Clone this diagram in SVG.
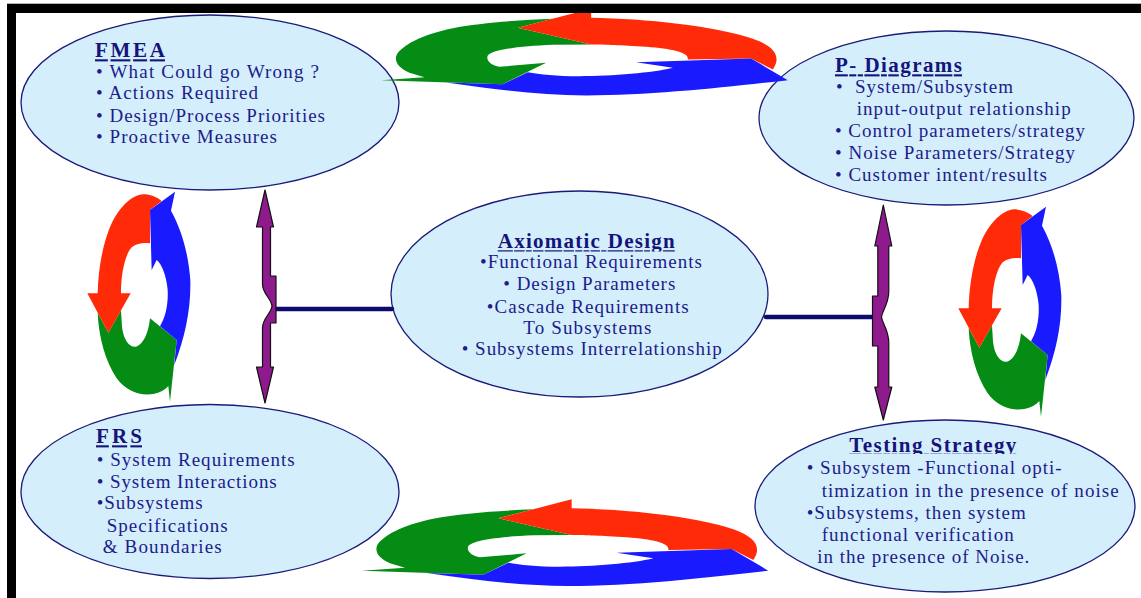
<svg xmlns="http://www.w3.org/2000/svg" width="1141" height="598" viewBox="0 0 1141 598">
<style>
  .oval{fill:#d4eefc;stroke:#1a1a78;stroke-width:1.3}
  .t{font-family:"Liberation Serif","Times New Roman",serif;font-size:19px;fill:#1c1c8a}
  .h{font-family:"Liberation Serif","Times New Roman",serif;font-size:21px;font-weight:bold;fill:#14147a;text-decoration:underline}
  .link{stroke:#0c0c6e;stroke-width:4.5;stroke-linecap:round;fill:none}
  .dbl{fill:#8e1a8e;stroke:#111;stroke-width:1.2;stroke-linejoin:round}
  .r{fill:#ff2a08}
  .g{fill:#058c14}
  .b{fill:#1a1aff}
</style>
<defs>
  <!-- flat (horizontal) three-colour cycle, drawn at 3x and scaled down on use -->
  <g id="cycleH">
    <path class="g" d="M520,88 C420,92 300,100 220,116 C140,132 80,160 55,190 C40,212 55,235 90,250 L135,263 L5,272 L370,284 L500,220 L360,232 C335,228 318,212 325,198 C340,180 420,170 520,166 L635,165 L415,115 Z"/>
    <path class="r" d="M415,115 L635,58 L635,85 C800,88 1000,108 1120,148 C1190,172 1205,205 1180,240 L1115,207 L925,210 C930,190 880,178 800,172 C720,167 680,166 635,165 Z"/>
    <path class="b" d="M1225,272 L1115,207 L770,218 L880,235 C820,250 700,260 600,260 C530,260 480,254 445,248 L370,284 L200,279 C350,300 480,318 620,318 C820,318 1050,292 1225,272 Z"/>
  </g>
  <!-- upright three-colour cycle, drawn at 3x and scaled down on use -->
  <g id="cycleV">
    <path class="g" d="M113,398 C116,470 135,540 170,595 C200,635 240,648 280,642 C300,638 315,630 325,618 L330,665 L350,480 L270,415 C266,455 252,492 228,500 C205,502 190,475 186,440 L183,391 L145,458 Z"/>
    <path class="r" d="M270,90 L305,63 C290,50 270,43 250,43 C215,45 180,80 155,130 C130,185 115,260 113,340 L82,340 L145,458 L212,340 L183,340 C183,280 195,225 215,202 C230,190 250,188 270,190 Z"/>
    <path class="b" d="M345,35 L333,92 C365,150 385,220 391,300 C393,390 375,470 343,555 L350,480 L300,439 C318,410 325,370 323,330 C320,290 305,250 290,240 L275,270 L270,90 Z"/>
  </g>
  <clipPath id="clipAx"><rect x="480" y="220" width="220" height="31.5"/></clipPath>
  <clipPath id="clipTs"><rect x="840" y="425" width="190" height="29"/></clipPath>
</defs>

<rect x="0" y="0" width="1141" height="598" fill="#ffffff"/>

<g id="fmea">
  <ellipse class="oval" cx="210" cy="102.5" rx="189" ry="87.5"/>
  <text class="h" x="95" y="57.3" textLength="70" lengthAdjust="spacing">FMEA</text>
  <text class="t" x="96" y="77.7" textLength="223" lengthAdjust="spacing">• What Could go Wrong ?</text>
  <text class="t" x="96" y="99.3" textLength="162" lengthAdjust="spacing">• Actions Required</text>
  <text class="t" x="96" y="121.7" textLength="229" lengthAdjust="spacing">• Design/Process Priorities</text>
  <text class="t" x="96" y="143.3" textLength="181" lengthAdjust="spacing">• Proactive Measures</text>
</g>

<g id="p-diagrams">
  <ellipse class="oval" cx="946.5" cy="118" rx="187.5" ry="87"/>
  <text class="h" x="835" y="72.3" textLength="127" lengthAdjust="spacing">P- Diagrams</text>
  <text class="t" x="836" y="93.3" textLength="177" lengthAdjust="spacing" xml:space="preserve">•  System/Subsystem</text>
  <text class="t" x="856.7" y="115" textLength="214" lengthAdjust="spacing">input-output relationship</text>
  <text class="t" x="835" y="136.7" textLength="250" lengthAdjust="spacing">• Control parameters/strategy</text>
  <text class="t" x="835" y="159.3" textLength="240" lengthAdjust="spacing">• Noise Parameters/Strategy</text>
  <text class="t" x="835" y="180.7" textLength="212" lengthAdjust="spacing">• Customer intent/results</text>
</g>

<g id="axiomatic-design">
  <ellipse class="oval" cx="579.5" cy="294" rx="188.5" ry="103"/>
  <text class="h" x="497.7" y="248.3" textLength="177" lengthAdjust="spacing" clip-path="url(#clipAx)">Axiomatic Design</text>
  <text class="t" x="480" y="268.3" textLength="222" lengthAdjust="spacing">•Functional Requirements</text>
  <text class="t" x="503.3" y="290" textLength="172" lengthAdjust="spacing">• Design Parameters</text>
  <text class="t" x="486.7" y="312.7" textLength="202" lengthAdjust="spacing">•Cascade Requirements</text>
  <text class="t" x="523.3" y="334" textLength="128" lengthAdjust="spacing">To Subsystems</text>
  <text class="t" x="461.7" y="355" textLength="260" lengthAdjust="spacing">• Subsystems Interrelationship</text>
</g>

<g id="frs">
  <ellipse class="oval" cx="210" cy="491.5" rx="189" ry="87"/>
  <text class="h" x="96" y="443.3" textLength="46" lengthAdjust="spacing">FRS</text>
  <text class="t" x="96.7" y="465.7" textLength="198" lengthAdjust="spacing">• System Requirements</text>
  <text class="t" x="96.7" y="487.7" textLength="180" lengthAdjust="spacing">• System Interactions</text>
  <text class="t" x="96.7" y="509.3" textLength="106" lengthAdjust="spacing">•Subsystems</text>
  <text class="t" x="106.7" y="531.7" textLength="121" lengthAdjust="spacing">Specifications</text>
  <text class="t" x="102.7" y="553.3" textLength="119" lengthAdjust="spacing">&amp; Boundaries</text>
</g>

<g id="testing-strategy">
  <ellipse class="oval" cx="945" cy="506" rx="190" ry="86"/>
  <text class="h" x="849.3" y="451.7" textLength="167" lengthAdjust="spacing" clip-path="url(#clipTs)">Testing Strategy</text>
  <text class="t" x="806.7" y="474" textLength="255" lengthAdjust="spacing">• Subsystem -Functional opti-</text>
  <text class="t" x="821.7" y="496.7" textLength="297" lengthAdjust="spacing">timization in the presence of noise</text>
  <text class="t" x="806.7" y="519" textLength="219" lengthAdjust="spacing">•Subsystems, then system</text>
  <text class="t" x="821.7" y="540.7" textLength="192" lengthAdjust="spacing">functional verification</text>
  <text class="t" x="817.3" y="563.3" textLength="212" lengthAdjust="spacing">in the presence of Noise.</text>
</g>

<g id="connectors">
  <line class="link" x1="274" y1="309" x2="392" y2="309"/>
  <line class="link" x1="766" y1="317" x2="878" y2="317"/>
  <!-- FMEA <-> FRS braced double arrow -->
  <path class="dbl" d="M265,190 L273.5,227 L270.5,227 L270.5,276 L276,276 L276,323 L270.5,323 L270.5,367 L273.5,367 L265,403 L256.5,367 L262.5,367 L262.5,328 C262.5,318 271,314 272,306 C271,298 262.5,294 262.5,284 L262.5,227 L256.5,227 Z"/>
  <!-- P-Diagrams <-> Testing Strategy braced double arrow -->
  <path class="dbl" d="M883.3,205 L891.8,246 L888.8,246 L888.8,291 C888.8,304 882.5,310 881.5,317 C882.5,324 888.8,330 888.8,343 L888.8,387 L891.8,387 L883.3,420 L874.8,387 L877.8,387 L877.8,346 L872.5,346 L872.5,296 L877.8,296 L877.8,246 L874.8,246 Z"/>
</g>

<g id="cycles">
  <use href="#cycleH" transform="translate(379.5 -10.5) scale(0.3333)"/>
  <use href="#cycleH" transform="translate(360 480) scale(0.3333)"/>
  <use href="#cycleV" transform="translate(60 180) scale(0.3333)"/>
  <use href="#cycleV" transform="translate(931 195) scale(0.3333)"/>
</g>

<g id="frame">
  <line x1="7" y1="3.5" x2="1141" y2="3.5" stroke="#b4b4b4" stroke-width="1"/>
  <rect x="7" y="4" width="1134" height="9" fill="#000"/>
  <rect x="7" y="4" width="9" height="594" fill="#000"/>
</g>
</svg>
